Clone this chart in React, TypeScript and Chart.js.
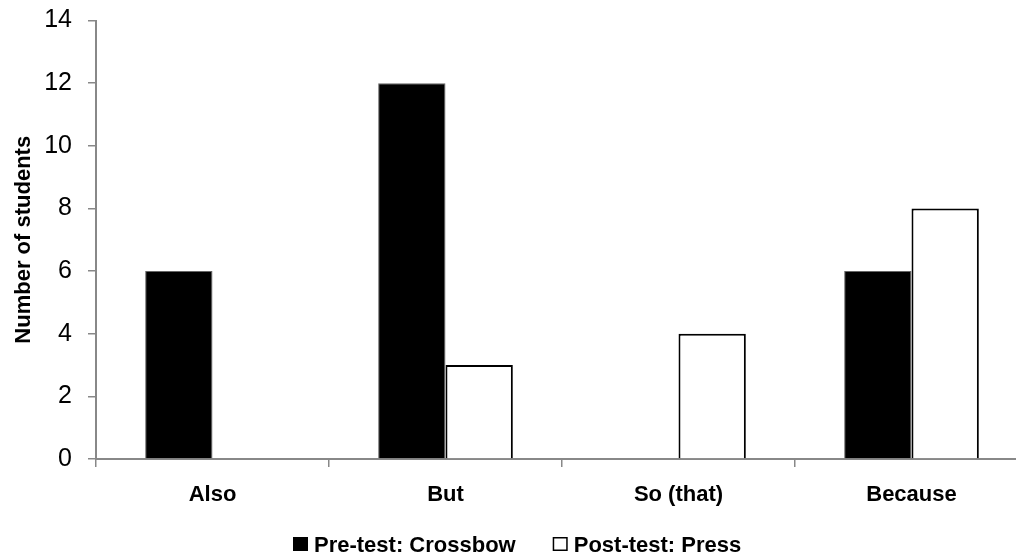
import React, { useEffect, useRef } from "react";
import { Chart, registerables } from "chart.js";

Chart.register(...registerables);

const categories = ["Also", "But", "So (that)", "Because"];
const preTest = [6, 12, 0, 6];
const postTest = [0, 3, 4, 8];
const seriesLabels = ["Pre-test: Crossbow", "Post-test: Press"];
const yTicks = [0, 2, 4, 6, 8, 10, 12, 14];

const FONT = '"Liberation Sans", Arial, sans-serif';
const AXIS_GRAY = "#888888";

const legendPlugin = {
  id: "customLegend",
  afterDraw(chart: any) {
    const ctx = chart.ctx as CanvasRenderingContext2D;
    ctx.save();
    ctx.font = `bold 22px ${FONT}`;
    ctx.textBaseline = "alphabetic";
    ctx.textAlign = "left";
    let x = 293;
    const boxTop = 537;
    const boxW = 15;
    const boxH = 14;
    const gap = 6;
    const itemGap = 37;
    const baseline = 552;
    chart.data.datasets.forEach((ds: any) => {
      if (ds.backgroundColor === "#000000") {
        ctx.fillStyle = "#000000";
        ctx.fillRect(x, boxTop, boxW, boxH);
      } else {
        ctx.fillStyle = "#ffffff";
        ctx.fillRect(x, boxTop, boxW, boxH);
        ctx.strokeStyle = "#000000";
        ctx.lineWidth = 1.5;
        ctx.strokeRect(x + 0.75, boxTop + 0.75, boxW - 1.5, boxH - 1.5);
      }
      ctx.fillStyle = "#000000";
      const tx = x + boxW + gap;
      ctx.fillText(ds.label, tx, baseline);
      x = tx + ctx.measureText(ds.label).width + itemGap;
    });
    ctx.restore();
  },
};

export default function App() {
  const canvasRef = useRef<HTMLCanvasElement | null>(null);

  useEffect(() => {
    if (!canvasRef.current) return;
    const chart = new Chart(canvasRef.current, {
      type: "bar",
      data: {
        labels: categories,
        datasets: [
          {
            label: seriesLabels[0],
            data: preTest,
            backgroundColor: "#000000",
            borderColor: "#666666",
            borderWidth: (c: any) => (c.raw === 0 ? 0 : 1),
            categoryPercentage: 0.578,
            barPercentage: 1,
          },
          {
            label: seriesLabels[1],
            data: postTest,
            backgroundColor: "#ffffff",
            borderColor: "#000000",
            borderWidth: (c: any) => (c.raw === 0 ? 0 : 2),
            categoryPercentage: 0.578,
            barPercentage: 1,
          },
        ],
      },
      options: {
        responsive: false,
        animation: false,
        layout: { padding: { left: 0, right: 12, top: 20.5, bottom: 0 } },
        plugins: {
          legend: { display: false },
          tooltip: { enabled: false },
        },
        scales: {
          x: {
            grid: {
              drawOnChartArea: false,
              drawTicks: true,
              tickLength: 8,
              color: AXIS_GRAY,
              lineWidth: 1.5,
            },
            border: { display: true, color: AXIS_GRAY, width: 2 },
            ticks: {
              color: "#000000",
              padding: 15,
              font: { family: FONT, size: 22, weight: "bold" },
            },
            afterFit: (scale: any) => {
              scale.height = 97;
              scale.paddingLeft = 0;
              scale.paddingRight = 0;
            },
          },
          y: {
            min: 0,
            max: 14,
            afterBuildTicks: (scale: any) => {
              scale.ticks = yTicks.map((v) => ({ value: v }));
            },
            grid: {
              drawOnChartArea: false,
              drawTicks: true,
              tickLength: 8,
              color: AXIS_GRAY,
              lineWidth: 1.5,
            },
            border: { display: true, color: AXIS_GRAY, width: 2 },
            ticks: {
              color: "#000000",
              padding: 16,
              font: { family: FONT, size: 25 },
            },
            title: {
              display: true,
              text: "Number of students",
              color: "#000000",
              font: { family: FONT, size: 22, weight: "bold" },
              padding: { top: 11, bottom: 0 },
            },
            afterFit: (scale: any) => {
              scale.width = 96;
              scale.paddingTop = 0;
              scale.paddingBottom = 0;
            },
          },
        },
      },
      plugins: [legendPlugin],
    } as any);
    return () => chart.destroy();
  }, []);

  return (
    <div
      style={{
        position: "absolute",
        left: 0,
        top: 0,
        width: 1016,
        height: 556,
        overflow: "hidden",
        background: "#ffffff",
      }}
    >
      <canvas
        ref={canvasRef}
        width={1040}
        height={556}
        style={{ display: "block", width: 1040, height: 556 }}
      />
    </div>
  );
}
